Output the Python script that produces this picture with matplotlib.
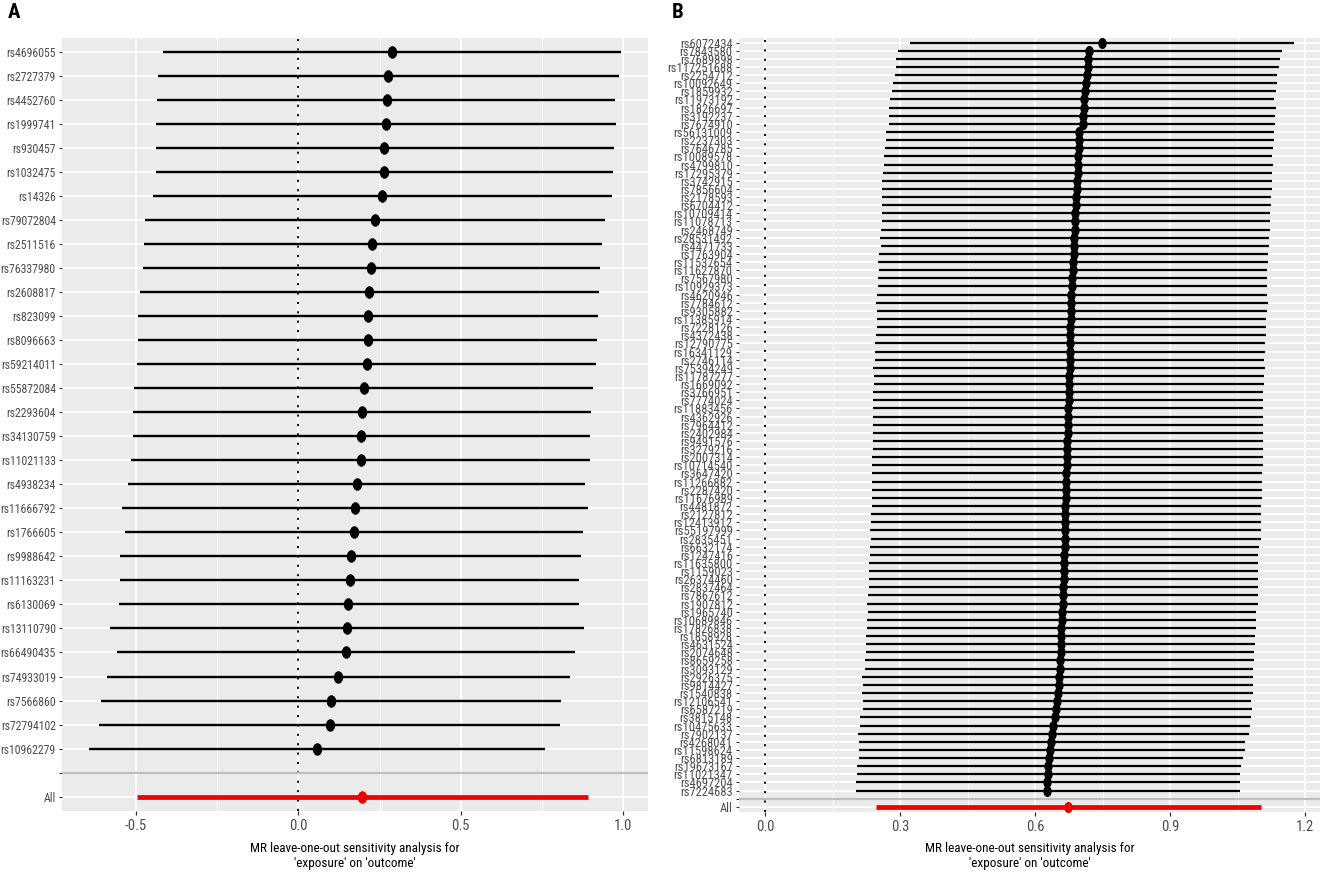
import numpy as np
import matplotlib
matplotlib.use('Agg')
from matplotlib import pyplot as plt
from matplotlib.markers import MarkerStyle
from matplotlib.transforms import Affine2D

plt.rcParams['font.family'] = ['Roboto Condensed', 'DejaVu Sans']
plt.rcParams['font.stretch'] = 'condensed'
plt.rcParams['axes.unicode_minus'] = False

# ---- panel A ----
snps_a = [
    'rs4696055', 'rs2727379', 'rs4452760', 'rs1999741', 'rs930457',
    'rs1032475', 'rs14326', 'rs79072804', 'rs2511516', 'rs76337980',
    'rs2608817', 'rs823099', 'rs8096663', 'rs59214011', 'rs55872084',
    'rs2293604', 'rs34130759', 'rs11021133', 'rs4938234', 'rs11666792',
    'rs1766605', 'rs9988642', 'rs11163231', 'rs6130069', 'rs13110790',
    'rs66490435', 'rs74933019', 'rs7566860', 'rs72794102', 'rs10962279',
]
b_a = [0.289, 0.277, 0.272, 0.271, 0.264, 0.264, 0.258, 0.236, 0.228, 0.224,
       0.219, 0.215, 0.214, 0.211, 0.201, 0.196, 0.193, 0.192, 0.180, 0.174,
       0.171, 0.162, 0.158, 0.154, 0.149, 0.146, 0.123, 0.101, 0.097, 0.057]
lo_a = [-0.416, -0.431, -0.434, -0.437, -0.439, -0.439, -0.447, -0.472, -0.474, -0.478,
        -0.486, -0.492, -0.492, -0.495, -0.506, -0.509, -0.509, -0.516, -0.523, -0.543,
        -0.532, -0.547, -0.547, -0.552, -0.579, -0.558, -0.588, -0.606, -0.613, -0.645]
hi_a = [0.994, 0.986, 0.975, 0.979, 0.970, 0.969, 0.964, 0.943, 0.933, 0.929,
        0.924, 0.921, 0.920, 0.917, 0.908, 0.902, 0.899, 0.899, 0.882, 0.890,
        0.876, 0.870, 0.864, 0.864, 0.878, 0.851, 0.837, 0.808, 0.806, 0.759]
all_a = (0.197, -0.497, 0.891)
ticks_a = [-0.5, 0.0, 0.5, 1.0]

# ---- panel B ----
snps_b = [
    'rs6072434', 'rs7843580', 'rs7689898', 'rs117251688', 'rs2254712', 'rs10092649', 'rs1859932', 'rs11973192', 'rs1826697', 'rs3192237',
    'rs7674910', 'rs56131009', 'rs2237303', 'rs7646785', 'rs10089578', 'rs4799810', 'rs17295379', 'rs3742915', 'rs7856604', 'rs2178593',
    'rs6704412', 'rs10709414', 'rs11078713', 'rs2468749', 'rs28531492', 'rs4471733', 'rs1763904', 'rs11537654', 'rs11627870', 'rs7567980',
    'rs10929373', 'rs4620946', 'rs7784612', 'rs9305882', 'rs11385914', 'rs7228126', 'rs4372438', 'rs12790775', 'rs16341129', 'rs2746114',
    'rs75394249', 'rs11787277', 'rs1669092', 'rs3766951', 'rs7774024', 'rs11883456', 'rs4362926', 'rs7964412', 'rs2402984', 'rs9491576',
    'rs3279216', 'rs2007314', 'rs10714540', 'rs3647420', 'rs11266882', 'rs2287420', 'rs11676989', 'rs4481872', 'rs2127812', 'rs12413912',
    'rs55197999', 'rs2835451', 'rs6632174', 'rs1247416', 'rs11635800', 'rs1159023', 'rs26374460', 'rs2837464', 'rs7867612', 'rs1907812',
    'rs1965740', 'rs10689846', 'rs17826838', 'rs1858928', 'rs4631524', 'rs2074648', 'rs8659258', 'rs3093129', 'rs2926375', 'rs9814427',
    'rs1540838', 'rs12106541', 'rs6587219', 'rs3815148', 'rs10475633', 'rs7902137', 'rs4268041', 'rs11598624', 'rs6813189', 'rs19673167',
    'rs11021347', 'rs4697204', 'rs7224683',
]
b_b = [
    0.748, 0.720, 0.717, 0.716, 0.714, 0.712, 0.711, 0.709, 0.708, 0.706,
    0.705, 0.698, 0.697, 0.696, 0.695, 0.694, 0.694, 0.693, 0.692, 0.691,
    0.690, 0.689, 0.688, 0.688, 0.687, 0.686, 0.685, 0.684, 0.683, 0.682,
    0.681, 0.680, 0.680, 0.679, 0.679, 0.678, 0.678, 0.677, 0.677, 0.676,
    0.676, 0.675, 0.675, 0.674, 0.674, 0.673, 0.673, 0.672, 0.672, 0.671,
    0.671, 0.670, 0.670, 0.669, 0.669, 0.668, 0.668, 0.667, 0.667, 0.666,
    0.666, 0.665, 0.665, 0.664, 0.664, 0.663, 0.663, 0.662, 0.662, 0.661,
    0.660, 0.659, 0.658, 0.658, 0.657, 0.656, 0.655, 0.654, 0.652, 0.652,
    0.651, 0.649, 0.646, 0.643, 0.639, 0.638, 0.635, 0.632, 0.630, 0.629,
    0.628, 0.627, 0.626,
]
lo_b = [
    0.322, 0.295, 0.291, 0.290, 0.287, 0.284, 0.282, 0.278, 0.274, 0.275,
    0.275, 0.267, 0.267, 0.265, 0.263, 0.263, 0.262, 0.260, 0.260, 0.259,
    0.259, 0.259, 0.259, 0.256, 0.254, 0.256, 0.253, 0.251, 0.252, 0.250,
    0.250, 0.248, 0.245, 0.248, 0.248, 0.247, 0.245, 0.244, 0.244, 0.244,
    0.240, 0.242, 0.241, 0.240, 0.239, 0.240, 0.240, 0.239, 0.239, 0.239,
    0.239, 0.237, 0.238, 0.237, 0.237, 0.236, 0.236, 0.236, 0.235, 0.235,
    0.233, 0.234, 0.232, 0.232, 0.231, 0.230, 0.230, 0.230, 0.227, 0.226,
    0.227, 0.225, 0.225, 0.224, 0.224, 0.223, 0.222, 0.221, 0.215, 0.217,
    0.214, 0.217, 0.217, 0.210, 0.210, 0.205, 0.209, 0.208, 0.208, 0.203,
    0.203, 0.202, 0.201,
]
hi_b = [
    1.174, 1.148, 1.143, 1.141, 1.138, 1.137, 1.136, 1.131, 1.136, 1.133,
    1.133, 1.131, 1.130, 1.128, 1.126, 1.128, 1.125, 1.125, 1.125, 1.123,
    1.123, 1.122, 1.122, 1.122, 1.120, 1.119, 1.118, 1.117, 1.116, 1.116,
    1.116, 1.114, 1.117, 1.114, 1.113, 1.112, 1.112, 1.111, 1.110, 1.109,
    1.110, 1.109, 1.108, 1.107, 1.107, 1.106, 1.106, 1.106, 1.106, 1.106,
    1.106, 1.105, 1.105, 1.104, 1.104, 1.103, 1.103, 1.102, 1.102, 1.101,
    1.101, 1.102, 1.098, 1.096, 1.096, 1.096, 1.095, 1.095, 1.094, 1.094,
    1.091, 1.090, 1.090, 1.088, 1.088, 1.086, 1.085, 1.084, 1.083, 1.084,
    1.084, 1.079, 1.081, 1.079, 1.077, 1.075, 1.066, 1.066, 1.061, 1.056,
    1.055, 1.054, 1.054,
]
all_b = (0.673, 0.245, 1.102)
ticks_b = [0.0, 0.3, 0.6, 0.9, 1.2]

XLABEL = "MR leave-one-out sensitivity analysis for\n'exposure' on 'outcome'"
oval = MarkerStyle('o', transform=Affine2D().scale(0.72, 1.0))


def forest(ax, snps, b, lo, hi, tot, ticks, ms, lw, ysize):
    n = len(snps)
    y = np.arange(n)[::-1] + 2   # 1 is the blank row, 0 is "All"
    ax.set_facecolor('#EBEBEB')
    ax.axvline(0, color='black', lw=1.3, ls=(0, (1.2, 4)), zorder=2)
    ax.hlines(y, lo, hi, color='black', lw=lw, zorder=3)
    ax.plot(b, y, ls='none', marker=oval, ms=ms, color='black', zorder=4)
    ax.hlines(0, tot[1], tot[2], color='#EE0000', lw=3.4, zorder=3)
    ax.plot([tot[0]], [0], ls='none', marker=oval, ms=ms, color='#EE0000', zorder=4)
    ax.axhline(1, color='#BEBEBE', lw=1.6, zorder=5)

    ax.set_yticks(np.arange(n + 2))
    ax.set_yticklabels(['All', ''] + snps[::-1])
    ax.set_xticks(ticks)
    ax.set_xticklabels([f'{t:.1f}' for t in ticks])
    step = ticks[1] - ticks[0]
    ax.set_xticks([t + step / 2 for t in ticks[:-1]] + [ticks[0] - step / 2], minor=True)

    xmin = min(min(lo), tot[1], 0)
    xmax = max(max(hi), tot[2], 0)
    pad = (xmax - xmin) * 0.05
    ax.set_xlim(xmin - pad, xmax + pad)
    ax.set_ylim(-0.6, n + 1.6)

    ax.set_axisbelow(True)
    ax.grid(which='major', color='white', lw=1.5)
    ax.grid(which='minor', axis='x', color='white', lw=0.7)
    for s in ax.spines.values():
        s.set_visible(False)
    ax.tick_params(axis='x', which='major', length=3, width=0.9, color='#333333',
                   labelcolor='#4D4D4D', labelsize=10.5, pad=3)
    ax.tick_params(axis='x', which='minor', length=0)
    ax.tick_params(axis='y', length=2.5, width=0.8, color='#333333',
                   labelcolor='#4D4D4D', labelsize=ysize, pad=2)
    ax.set_xlabel(XLABEL, fontsize=9.5, color='black', labelpad=6, linespacing=1.2)


fig = plt.figure(figsize=(13.25, 8.94), dpi=100)
W, H = 1325, 894
ax_a = fig.add_axes([62 / W, 1 - 811 / H, (648 - 62) / W, (811 - 37.7) / H])
ax_b = fig.add_axes([739 / W, 1 - 811.7 / H, (1320 - 739) / W, (811.7 - 37.7) / H])

forest(ax_a, snps_a, b_a, lo_a, hi_a, all_a, ticks_a, ms=8, lw=1.7, ysize=8.5)
forest(ax_b, snps_b, b_b, lo_b, hi_b, all_b, ticks_b, ms=7, lw=1.6, ysize=9)

fig.text(8 / W, 1 - 12 / H, 'A', fontsize=15, fontweight='bold', va='center', ha='left')
fig.text(672 / W, 1 - 12 / H, 'B', fontsize=15, fontweight='bold', va='center', ha='left')

fig.savefig('out.png', dpi=100)
